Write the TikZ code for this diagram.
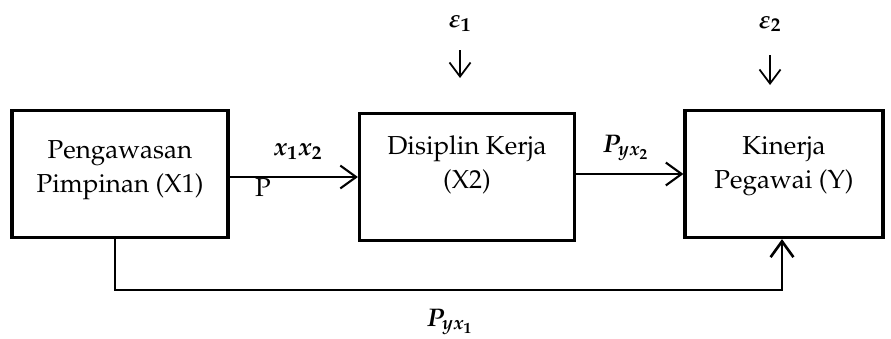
\documentclass[tikz,border=0pt]{standalone}
\usepackage[T1]{fontenc}
\usepackage{amsmath,amssymb}
\usepackage{mathpazo}
\usepackage{tikz}
\usetikzlibrary{arrows.meta, calc, positioning}

\begin{document}
\begin{tikzpicture}[x=0.02cm,y=-0.02cm,>={Straight Barb[length=9pt,width=13pt]},font=\fontsize{14.8}{19}\selectfont]
\tikzset{
  varbox/.style={draw,line width=1.8pt,minimum width=#1*0.02cm,minimum height=127*0.02cm,inner sep=0pt},
  conn/.style={line width=1.2pt},
  errarrow/.style={line width=1pt,>={Straight Barb[length=8pt,width=12pt]}},
  coef/.style={inner sep=1pt,font=\fontsize{14.5}{16}\selectfont}
}
\useasboundingbox (0,0) rectangle (891,338);
% boxes
\node[varbox=216] (x1) at (120,174) {};
\node[varbox=215] (x2) at (467,177) {};
\node[varbox=198] (y)  at (784,174) {};
% box texts
\node[align=center] (x1t) at (120,170) {Pengawasan\\Pimpinan (X1)};
\node[align=center] (x2t) at (467,165) {Disiplin Kerja\\(X2)};
\node[align=center] (yt)  at (784,166) {Kinerja\\Pegawai (Y)};
% error terms
\node[coef] (e1) at (460,24) {$\boldsymbol{\varepsilon_1}$};
\node[coef] (e2) at (770,24) {$\boldsymbol{\varepsilon_2}$};
\coordinate (e1s) at (460,50);
\coordinate (e1end) at (460,78);
\coordinate (e2s) at (770,55);
\coordinate (e2end) at (770,85);
\draw[errarrow,->] (e1s) -- (e1end);
\draw[errarrow,->] (e2s) -- (e2end);
% direct paths
\draw[conn,->] (x1.east |- x2.west) -- (x2.west);
\draw[conn,->] (x2.east |- y.west) -- (y.west);
% path X1 -> Y along the bottom
\coordinate (b1) at (115,290);
\coordinate (b2) at (782,290);
\draw[conn,line width=1.5pt,->] (x1.south -| b1) -- (b1) -- (b2) -- (y.south -| b2);
% coefficients
\node[coef] (p12) at (298,152) {$\boldsymbol{x_1x_2}$};
\node[inner sep=1pt] (pp) at (263,188) {P};
\node[coef] (py2) at (626,148) {$\boldsymbol{P_{yx_2}}$};
\node[coef] (py1) at (450,322) {$\boldsymbol{P_{yx_1}}$};
\end{tikzpicture}
\end{document}
